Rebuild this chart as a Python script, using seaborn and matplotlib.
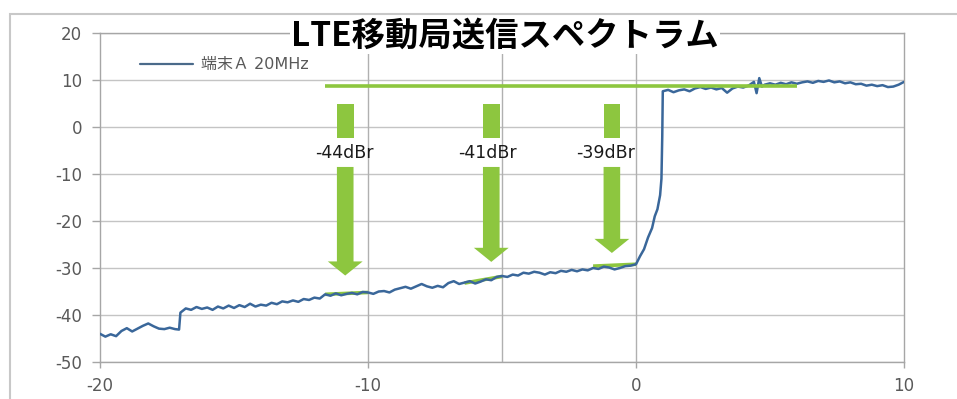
import numpy as np
import pandas as pd
import seaborn as sns
import matplotlib.pyplot as plt
from matplotlib.patches import Rectangle

# スペクトラム波形 (周波数オフセット MHz, レベル dB)
freq = [-20.0, -19.8, -19.6, -19.4, -19.2, -19.0, -18.8, -18.6, -18.4, -18.2,
        -18.0, -17.8, -17.6, -17.4, -17.2, -17.05, -17.0, -16.8, -16.6, -16.4,
        -16.2, -16.0, -15.8, -15.6, -15.4, -15.2, -15.0, -14.8, -14.6, -14.4,
        -14.2, -14.0, -13.8, -13.6, -13.4, -13.2, -13.0, -12.8, -12.6, -12.4,
        -12.2, -12.0, -11.8, -11.6, -11.4, -11.2, -11.0, -10.8, -10.6, -10.4,
        -10.2, -10.0, -9.8, -9.6, -9.4, -9.2, -9.0, -8.8, -8.6, -8.4,
        -8.2, -8.0, -7.8, -7.6, -7.4, -7.2, -7.0, -6.8, -6.6, -6.4,
        -6.2, -6.0, -5.8, -5.6, -5.4, -5.2, -5.0, -4.8, -4.6, -4.4,
        -4.2, -4.0, -3.8, -3.6, -3.4, -3.2, -3.0, -2.8, -2.6, -2.4,
        -2.2, -2.0, -1.8, -1.6, -1.4, -1.2, -1.0, -0.8, -0.6, -0.4,
        -0.2, 0.0, 0.15, 0.3, 0.45, 0.6, 0.7, 0.8, 0.9, 0.95,
        0.98, 1.0, 1.2, 1.4, 1.6, 1.8, 2.0, 2.2, 2.4, 2.6,
        2.8, 3.0, 3.2, 3.4, 3.6, 3.8, 4.0, 4.2, 4.4, 4.5,
        4.6, 4.7, 4.8, 5.0, 5.2, 5.4, 5.6, 5.8, 6.0, 6.2,
        6.4, 6.6, 6.8, 7.0, 7.2, 7.4, 7.6, 7.8, 8.0, 8.2,
        8.4, 8.6, 8.8, 9.0, 9.2, 9.4, 9.6, 9.8, 10.0]
level = [-44.0, -44.6, -44.1, -44.5, -43.4, -42.8, -43.5, -42.9, -42.3, -41.8,
         -42.4, -42.9, -43.0, -42.7, -43.0, -43.1, -39.5, -38.6, -38.9, -38.3,
         -38.7, -38.4, -38.9, -38.2, -38.6, -38.0, -38.5, -37.9, -38.3, -37.6,
         -38.2, -37.8, -38.0, -37.4, -37.7, -37.1, -37.3, -36.9, -37.2, -36.6,
         -36.8, -36.3, -36.5, -35.6, -35.9, -35.4, -35.8, -35.5, -35.3, -35.6,
         -35.1, -35.2, -35.5, -35.0, -34.9, -35.2, -34.6, -34.3, -34.0, -34.4,
         -33.9, -33.4, -33.9, -34.2, -33.8, -34.1, -33.2, -32.8, -33.4, -33.1,
         -32.8, -33.3, -32.9, -32.4, -32.6, -31.9, -31.7, -31.9, -31.4, -31.6,
         -31.0, -31.2, -30.8, -31.0, -31.4, -30.9, -31.1, -30.6, -30.8, -30.4,
         -30.7, -30.3, -30.5, -30.0, -30.2, -29.7, -29.9, -30.3, -30.0, -29.6,
         -29.5, -29.2, -27.5, -26.0, -23.5, -21.5, -19.0, -17.5, -14.5, -11.0,
         -2.0, 7.6, 7.9, 7.4, 7.8, 8.0, 7.6, 8.2, 8.5, 8.1,
         8.4, 8.0, 8.3, 7.3, 8.2, 8.6, 8.4, 8.8, 9.6, 7.2,
         10.4, 8.6, 9.0, 9.3, 9.0, 9.4, 9.1, 9.5, 9.2, 9.5,
         9.7, 9.4, 9.8, 9.6, 9.9, 9.5, 9.7, 9.3, 9.5, 9.1,
         9.2, 8.8, 9.0, 8.7, 8.9, 8.5, 8.6, 9.0, 9.6]

series_name = '端末Ａ 20MHz'
title = 'LTE移動局送信スペクトラム'

# 基準レベル(緑の横線)
ref_level = 8.7
ref_start, ref_end = -11.6, 6.0

# 矢印と dBr ラベル
arrow_x = [-10.85, -5.4, -0.9]
arrow_tip = [-31.6, -28.7, -26.8]
label_x = [-10.9, -5.55, -1.15]
labels = ['-44dBr', '-41dBr', '-39dBr']
arrow_top, gap_top, gap_bottom = 5.0, -2.3, -8.5

# 矢印先の緑の短い線
seg_x0 = [-11.6, -6.4, -1.6]
seg_y0 = [-35.6, -33.2, -29.6]
seg_x1 = [-10.0, -5.0, 0.0]
seg_y1 = [-35.2, -31.8, -29.2]

xticks = [-20, -10, 0, 10]
yticks = [-50, -40, -30, -20, -10, 0, 10, 20]
vgrid = [-10, -5, 0]

sns.set_theme(style='white')
plt.rcParams['font.family'] = ['DejaVu Sans', 'Noto Sans CJK JP']
plt.rcParams['axes.unicode_minus'] = False

green = '#8DC63F'
blue = '#3A679A'
gray = '#A6A6A6'

fig = plt.figure(figsize=(9.57, 3.99), dpi=100)
ax = fig.add_axes([0.1045, 0.0927, 0.8401, 0.8246])

df = pd.DataFrame({'freq': freq, 'level': level})

# グリッド
for yv in yticks:
    ax.axhline(yv, color='#C4C4C4', lw=1, zorder=0)
for xv in vgrid:
    ax.axvline(xv, color='#B0B0B0', lw=1, zorder=0)

# 矢印先の緑線(波形の下)
for a, b, c, d in zip(seg_x0, seg_y0, seg_x1, seg_y1):
    ax.plot([a, c], [b, d], color=green, lw=2.6, zorder=2, solid_capstyle='butt')

sns.lineplot(data=df, x='freq', y='level', ax=ax, color=blue, lw=1.8,
             sort=False, estimator=None, label=series_name, zorder=3)

# 基準レベル線
ax.plot([ref_start, ref_end], [ref_level, ref_level], color=green, lw=2.6,
        zorder=4, solid_capstyle='butt')

# 矢印 (ラベル部分で途切れる)
for xa, tip in zip(arrow_x, arrow_tip):
    ax.arrow(xa, arrow_top, 0, gap_top - arrow_top, width=0.62, head_width=0.62,
             head_length=0, length_includes_head=True, color=green, lw=0, zorder=4)
    ax.arrow(xa, gap_bottom, 0, tip - gap_bottom, width=0.62, head_width=1.3,
             head_length=3.0, length_includes_head=True, color=green, lw=0, zorder=4)

for xl, txt in zip(label_x, labels):
    ax.text(xl, -5.5, txt, ha='center', va='center', fontsize=12.5,
            color='#1A1A1A', zorder=5)

ax.set_xlim(-20, 10)
ax.set_ylim(-50, 20)
ax.set_xticks(xticks)
ax.set_yticks(yticks)
ax.set_xlabel('')
ax.set_ylabel('')
ax.tick_params(axis='y', length=6, width=1, color=gray, pad=7,
               labelsize=12, labelcolor='#595959', left=True)
ax.tick_params(axis='x', length=4, width=1, color=gray, pad=7,
               labelsize=12, labelcolor='#595959', bottom=True)
for s in ax.spines.values():
    s.set_color(gray)
    s.set_linewidth(1)

leg = ax.legend(loc='center left', bbox_to_anchor=(0.05, 0.903), frameon=False,
                borderaxespad=0, borderpad=0, handlelength=3.3, handletextpad=0.5,
                fontsize=11.5, labelcolor='#595959')
for h in leg.get_lines():
    h.set_color('#4A6A8A')
    h.set_linewidth(1.6)

# タイトル(白背景でプロット枠に重なる)
fig.text(505 / 957, 1 - 36 / 399, title, ha='center', va='center',
         fontsize=24, fontweight='bold', family=['Noto Sans CJK JP'],
         color='black', bbox=dict(facecolor='white', edgecolor='none', pad=1))

# 外枠
fig.patches.append(Rectangle((10 / 957, -0.1), 1.2, 1.1 - 14 / 399,
                             transform=fig.transFigure, fill=False,
                             edgecolor='#C8C8C8', lw=1.5))

fig.savefig('out.png', dpi=100)
